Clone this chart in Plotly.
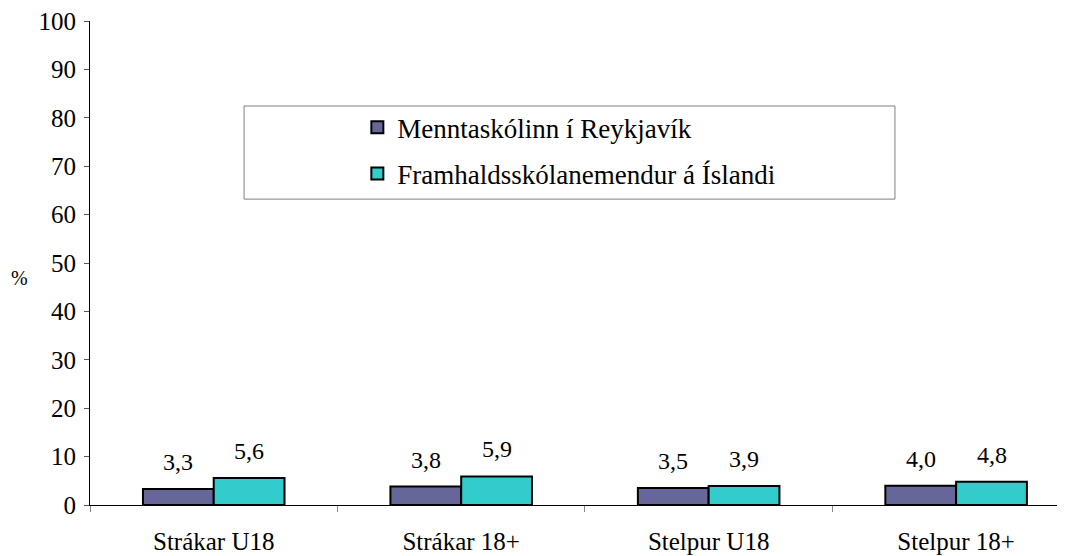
import plotly.graph_objects as go

categories = ["Strákar U18", "Strákar 18+", "Stelpur U18", "Stelpur 18+"]
series_names = ["Menntaskólinn í Reykjavík", "Framhaldsskólanemendur á Íslandi"]
mr_values = [3.3, 3.8, 3.5, 4.0]
all_values = [5.6, 5.9, 3.9, 4.8]
y_ticks = [0, 10, 20, 30, 40, 50, 60, 70, 80, 90, 100]

FONT = "Liberation Serif"
BAR_PX = 70.8

def fmt(v):
    return f"{v:.1f}".replace(".", ",")

fig = go.Figure()
fig.add_trace(go.Bar(
    x=categories, y=mr_values, name=series_names[0],
    marker=dict(color="#666699", line=dict(color="black", width=2)),
    legendgroup="a",
))
fig.add_trace(go.Bar(
    x=categories, y=all_values, name=series_names[1],
    marker=dict(color="#33CCCC", line=dict(color="black", width=2)),
    legendgroup="b",
))

annotations = []
for vals, sgn in ((mr_values, -1), (all_values, 1)):
    for c, v in zip(categories, vals):
        annotations.append(dict(
            x=c, y=v, xref="x", yref="y", text=fmt(v), showarrow=False,
            xanchor="center", yanchor="bottom", xshift=sgn * BAR_PX / 2, yshift=12,
            font=dict(family=FONT, size=24, color="black"),
        ))
annotations.append(dict(
    text="%", xref="paper", yref="paper", x=-0.072, y=0.47,
    xanchor="center", yanchor="middle", showarrow=False,
    font=dict(family=FONT, size=20, color="black"),
))

fig.update_layout(
    width=1057, height=548,
    margin=dict(l=82, r=0, t=13, b=51),
    paper_bgcolor="white", plot_bgcolor="white",
    barmode="group", bargap=0.428, bargroupgap=0,
    font=dict(family=FONT, size=24, color="black"),
    showlegend=True,
    legend=dict(
        x=0.2742, y=0.83, xanchor="left", yanchor="top",
        bgcolor="rgba(0,0,0,0)", borderwidth=0,
        font=dict(family=FONT, size=27, color="black"),
        tracegroupgap=8,
    ),
    xaxis=dict(
        type="category", range=[-0.5, 3.44],
        showline=True, linecolor="black", linewidth=1,
        ticks="outside", tickson="boundaries", ticklen=6, tickcolor="#888",
        showgrid=False, zeroline=False,
        tickfont=dict(family=FONT, size=25, color="black"),
        ticklabelstandoff=14, ticklabeloverflow="allow",
    ),
    yaxis=dict(
        range=[0, 100], tickvals=y_ticks,
        showline=True, linecolor="black", linewidth=1,
        ticks="outside", ticklen=5, tickcolor="#555",
        showgrid=False, zeroline=False,
        tickfont=dict(family=FONT, size=25, color="black"),
        ticklabelstandoff=3, ticklabeloverflow="allow",
    ),
    shapes=[dict(
        type="rect", xref="paper", yref="paper",
        x0=0.158, x1=0.8256, y0=0.632, y1=0.8244,
        line=dict(color="#808080", width=1), fillcolor="rgba(0,0,0,0)",
        layer="below",
    )],
    annotations=annotations,
)

fig.write_html("out.html")
